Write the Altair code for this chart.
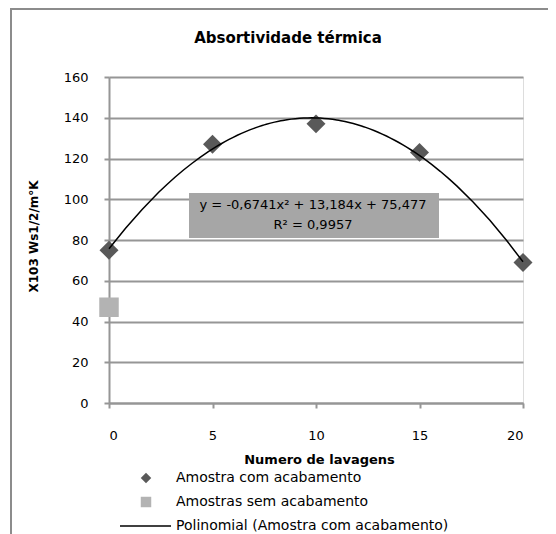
import altair as alt
import pandas as pd

# ---- data ----
lavagens = [0, 5, 10, 15, 20]
com_acabamento = [75, 127, 137, 123, 69]
lavagens_sem = [0]
sem_acabamento = [47]
y_ticks = [0, 20, 40, 60, 80, 100, 120, 140, 160]
x_ticks = [0, 5, 10, 15, 20]
titulo = ["Absortividade térmica"]
x_titulo = "Numero de lavagens"
y_titulo = "X103 Ws1/2/m°K"
legenda = ["Amostra com acabamento", "Amostras sem acabamento",
           "Polinomial (Amostra com acabamento)"]
equacao = ["y = -0,6741x² + 13,184x + 75,477", "R² = 0,9957"]

W, H = 414, 326
FONT = "DejaVu Sans"
GRID = "#969696"
DARK = "#595959"
LIGHT = "#b3b3b3"

com = pd.DataFrame({"lav": lavagens, "val": com_acabamento})
sem = pd.DataFrame({"lav": lavagens_sem, "val": sem_acabamento})
one = pd.DataFrame({"k": [0]})

xenc = alt.X("lav:Q", scale=alt.Scale(domain=[0, 20], nice=False),
             axis=alt.Axis(values=x_ticks, grid=False, title=x_titulo,
                           domainColor=GRID, domainWidth=2, tickColor=GRID,
                           tickWidth=2, tickSize=5, labelPadding=27,
                           labelBaseline="middle", labelFont=FONT, labelFontSize=13,
                           labelColor="black", titleFont=FONT, titleFontSize=13,
                           titleFontWeight="bold", titleColor="black",
                           titleX=210, titleY=56, titleBaseline="middle",
                           titleAlign="center"))
yenc = alt.Y("val:Q", scale=alt.Scale(domain=[0, 160], nice=False),
             axis=alt.Axis(values=y_ticks, grid=True, gridColor=GRID, gridWidth=2,
                           title=y_titulo, domainColor=GRID, domainWidth=2,
                           tickColor=GRID, tickWidth=2, tickSize=5, labelPadding=16,
                           labelFont=FONT, labelFontSize=13, labelColor="black",
                           titleFont=FONT, titleFontSize=12, titleFontWeight="bold",
                           titleColor="black", titleX=-76, titleY=159,
                           titleAlign="center", titleBaseline="middle"))

diamonds = alt.Chart(com).mark_point(shape="diamond", filled=True, size=360,
                                     color=DARK, opacity=1).encode(x=xenc, y=yenc)
square = alt.Chart(sem).mark_point(shape="square", filled=True, size=380,
                                   color=LIGHT, opacity=1).encode(x="lav:Q", y="val:Q")
trend = alt.Chart(com).transform_regression(
    "lav", "val", method="poly", order=2, extent=[0, 20]
).mark_line(color="black", strokeWidth=1.5).encode(x="lav:Q", y="val:Q")

box = alt.Chart(one).mark_rect(color="#a6a6a6").encode(
    x=alt.value(80), x2=alt.value(330), y=alt.value(116), y2=alt.value(161))
eq1 = alt.Chart(pd.DataFrame({"t": [equacao[0]]})).mark_text(
    font=FONT, fontSize=13, color="black", align="center", baseline="middle"
).encode(text="t:N", x=alt.value(204), y=alt.value(128))
eq2 = alt.Chart(pd.DataFrame({"t": [equacao[1]]})).mark_text(
    font=FONT, fontSize=13, color="black", align="center", baseline="middle"
).encode(text="t:N", x=alt.value(204), y=alt.value(148))

title = alt.Chart(pd.DataFrame({"t": titulo})).mark_text(
    font=FONT, fontSize=15, fontWeight="bold", color="black",
    align="center", baseline="middle"
).encode(text="t:N", x=alt.value(179), y=alt.value(-39))

# frame of the chart area
frame_top = alt.Chart(one).mark_rule(color="#8c8c8c", strokeWidth=2).encode(
    x=alt.value(-99), x2=alt.value(439), y=alt.value(-68))
frame_left = alt.Chart(one).mark_rule(color="#8c8c8c", strokeWidth=2).encode(
    x=alt.value(-98), y=alt.value(-69), y2=alt.value(470))

# legend (drawn by hand under the x title)
LX_SYM, LX_TXT = 37, 67
rows = [401, 425, 449]
leg_d = alt.Chart(one).mark_point(shape="diamond", filled=True, size=110,
                                  color=DARK, opacity=1).encode(
    x=alt.value(LX_SYM), y=alt.value(rows[0]))
leg_s = alt.Chart(one).mark_point(shape="square", filled=True, size=110,
                                  color=LIGHT, opacity=1).encode(
    x=alt.value(LX_SYM), y=alt.value(rows[1]))
leg_l = alt.Chart(one).mark_rule(color="black", strokeWidth=1.5).encode(
    x=alt.value(11), x2=alt.value(62), y=alt.value(rows[2]))
leg_txt = []
for i, lab in enumerate(legenda):
    leg_txt.append(alt.Chart(pd.DataFrame({"t": [lab]})).mark_text(
        font=FONT, fontSize=14, color="black", align="left", baseline="middle"
    ).encode(text="t:N", x=alt.value(LX_TXT), y=alt.value(rows[i])))

chart = alt.layer(
    diamonds, square, trend, box, eq1, eq2, title, frame_top, frame_left,
    leg_d, leg_s, leg_l, *leg_txt
).properties(
    width=W, height=H,
    autosize=alt.AutoSizeParams(type="none"),
    padding={"left": 101, "top": 69, "right": 25, "bottom": 131},
).configure_view(stroke=None).configure(background="white")

chart.save("out.html", embed_options={"renderer": "svg", "actions": False})
